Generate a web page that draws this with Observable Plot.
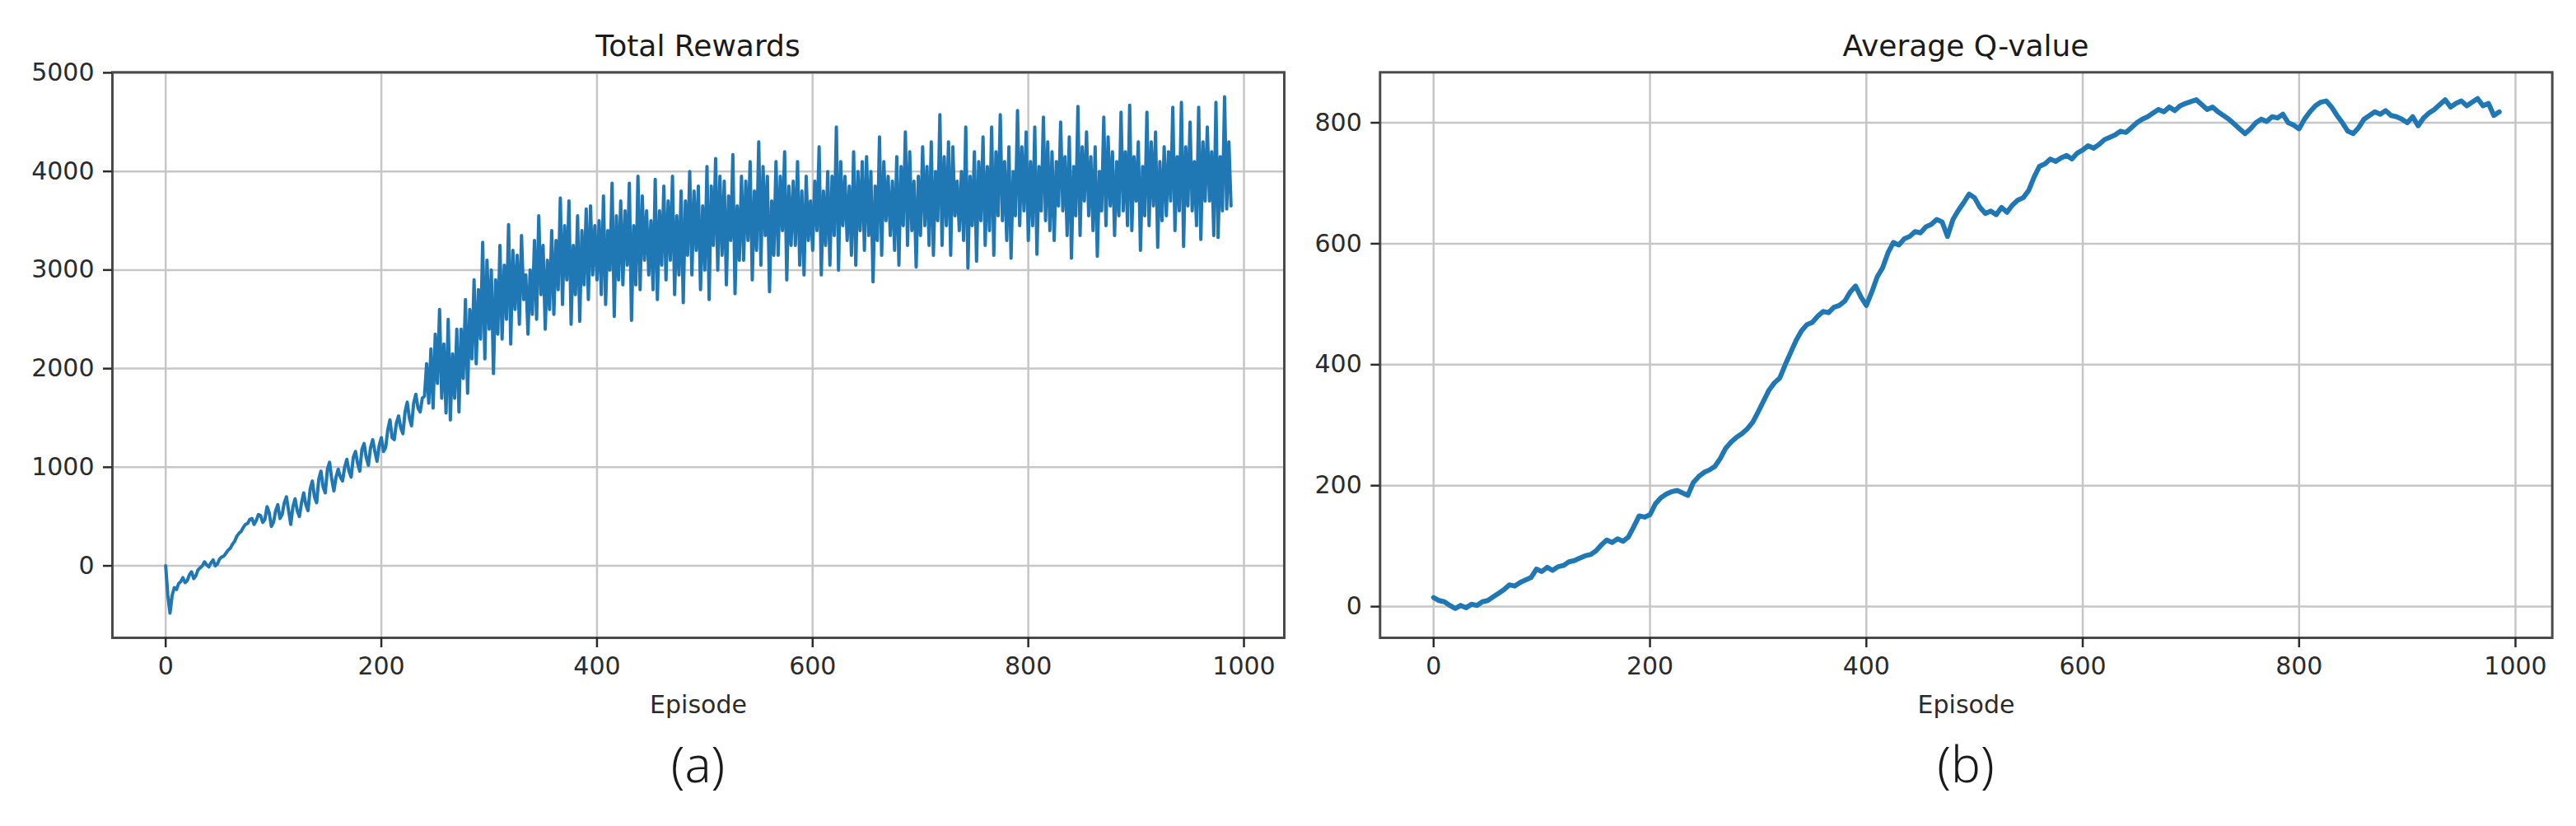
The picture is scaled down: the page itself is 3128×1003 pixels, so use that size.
<!DOCTYPE html>
<html><head><meta charset="utf-8">
<script src="https://cdn.jsdelivr.net/npm/d3@7"></script>
<script src="https://cdn.jsdelivr.net/npm/@observablehq/plot@0.6"></script>
<style>
body{margin:0;background:#fff;}
#wrap{position:relative;width:3128px;height:1003px;background:#fff;overflow:hidden;font-family:"DejaVu Sans",sans-serif;}
.panel{position:absolute;top:0;}
.panel svg{overflow:visible;}
.title{position:absolute;top:37.5px;font-family:"DejaVu Sans",sans-serif;font-size:36px;line-height:36px;color:#1a1a1a;text-align:center;width:800px;white-space:nowrap;}
.cap{position:absolute;top:897px;font-family:"Noto Sans",sans-serif;font-weight:300;font-size:60px;line-height:60px;color:#1a1a1a;text-align:center;width:200px;}
</style></head><body><div id="wrap"></div>
<script>
// Panel (a): Total Rewards, one value every 2 episodes (episodes 0..988)
const rewardStep = 2;
const rewards = [
0,-300,-480,-300,-220,-240,-180,-160,-120,-170,-150,-90,-60,-130,-100,-40,-20,0,40,10,
-10,30,60,0,20,70,90,100,130,160,180,220,250,300,330,350,390,420,430,470,
480,420,460,520,510,440,470,600,540,400,440,560,620,480,520,640,700,560,420,600,
680,560,500,640,740,620,560,780,860,700,640,880,960,800,740,980,1050,880,760,900,
980,900,860,1000,1080,960,900,1100,1160,1040,960,1180,1240,1100,1020,1200,1280,1160,1060,1220,
1300,1160,1200,1380,1480,1300,1280,1450,1520,1400,1340,1560,1660,1500,1420,1650,1740,1600,1560,1700,
1720,2050,1650,2200, 1600,2350,1850,2600, 1700,2250,1550,2500, 1480,2150,1700,2400, 1560,2400,1900,2700,
1750,2600,2100,2900, 2050,2800,2300,3280, 2100,3100,2400,3000, 1950,2900,2350,3250, 2300,3050,2500,3460,
2250,3200,2600,3150, 2450,3350,2700,2950, 2350,3000,2550,3300, 2500,3550,2750,3250, 2400,3100,2600,3400,
2550,3300,2800,3730, 2650,3450,2900,3700, 2450,3250,2750,3550, 2480,3400,2850,3620, 2700,3650,2950,3450,
2900,3500,2750,3750, 2650,3400,3000,3880, 2530,3550,2900,3700, 2850,3600,3050,3880, 2490,3450,2850,3950,
2800,3750,3100,3600, 2950,3500,2800,3920, 2700,3600,3050,3850, 2900,3700,3100,3950, 2750,3550,2950,3800,
2670,3700,3150,4000, 2950,3800,3200,3850, 2800,3650,3000,4050, 2700,3850,3250,4130, 3000,3950,3150,3900,
2850,3750,3300,4170, 2760,3650,3100,3950, 3100,3900,3300,4100, 2900,3800,3200,4300, 3050,4050,3350,3950,
2780,3700,3150,4100, 3150,3950,3400,4200, 2900,3850,3250,3900, 3250,4100,3050,3800, 2950,3950,3300,3700,
3200,3900,3400,4250, 2950,3800,3250,4000, 3050,3950,3350,4450, 3000,4100,3450,3950, 3300,3850,3150,4200,
3050,4000,3400,4100, 3200,4150,3350,4000, 2880,3850,3300,4350, 3150,4100,3500,3950, 3350,3900,3200,4150,
3050,4050,3450,4400, 3250,4200,3400,3900, 3030,3950,3350,4250, 3450,4050,3250,4300, 3150,4000,3500,4575,
3250,4150,3450,4300, 3150,4250,3550,3900, 3400,4000,3300,4450, 3020,3950,3450,4200, 3090,4100,3500,4350,
3250,4050,3400,4450, 3150,4200,3550,4575, 3500,4100,3300,4250, 3120,4000,3550,4617, 3450,4250,3600,4400,
3300,4100,3450,4450, 3160,4050,3600,4550, 3500,4300,3400,4200, 3300,4100,3650,4500, 3600,4150,3350,4350,
3120,4050,3550,4658, 3350,4250,3700,4400, 3550,4150,3400,4250, 3140,4000,3600,4550, 3450,4350,3650,4200,
3350,4100,3550,4600, 3600,4200,3450,4672, 3400,4150,3700,4300, 3200,4050,3550,4600, 3450,4300,3650,4400,
3230,4100,3500,4250, 3550,4200,3700,4650, 3400,4150,3600,4700, 3240,4250,3650,4500, 3600,4100,3450,4650,
3310,4300,3700,4450, 3700,4200,3350,4700, 3330,4150,3600,4756, 3620,4300,3650];

// Panel (b): Average Q-value, one value every 5 episodes (episodes 0..985)
const qStep = 5;
const qValues = [15,10,8,2,-3,2,-2,4,2,8,
10,16,22,28,36,34,40,44,48,62,
58,65,60,66,68,74,76,80,84,86,
92,102,110,106,112,108,115,132,150,148,
152,170,180,186,190,192,188,184,205,215,
222,226,232,245,262,272,280,286,294,305,
322,340,358,370,378,400,420,440,456,466,
470,480,488,486,495,498,505,520,530,512,
498,520,545,560,585,602,598,608,612,620,
618,628,632,640,636,612,640,655,668,682,
676,660,650,654,648,660,652,664,672,676,
688,710,728,732,740,736,742,746,740,750,
755,762,758,764,772,776,780,786,784,792,
800,806,810,816,822,818,826,820,828,832,
835,838,830,822,826,818,812,806,798,790,
782,790,800,806,802,810,808,814,800,796,
790,806,818,828,834,836,826,812,800,786,
782,792,806,812,818,814,820,812,810,806,
800,810,795,808,816,822,830,838,826,832,
836,828,834,840,828,832,812,818];

const xTicks = [0,200,400,600,800,1000];
const rewardTicks = [0,1000,2000,3000,4000,5000];
const qTicks = [0,200,400,600,800];
const titles = ["Total Rewards","Average Q-value"];
const captions = ["(a)","(b)"];
const xLabel = "Episode";

const rewardData = rewards.map((v,i)=>({episode:i*rewardStep, value:v}));
const qData = qValues.map((v,i)=>({episode:i*qStep, value:v}));

const wrap = document.getElementById("wrap");
const plain = d => String(d);

function makePanel({data, yDomain, yTicks, left, width, marginLeft, marginRight, strokeWidth, xDomain}) {
  const chart = Plot.plot({
    width, height: 1003,
    marginLeft, marginRight, marginTop: 87.3, marginBottom: 229,
    style: {fontFamily: '"DejaVu Sans", sans-serif', fontSize: "30px", color: "#2b2b2b", background: "transparent", overflow: "visible"},
    x: {domain: xDomain},
    y: {domain: yDomain},
    marks: [
      Plot.gridX(xTicks, {stroke: "#c6c6c6", strokeOpacity: 1, strokeWidth: 2.5}),
      Plot.gridY(yTicks, {stroke: "#c6c6c6", strokeOpacity: 1, strokeWidth: 2.5}),
      Plot.lineY(data, {x: "episode", y: "value", stroke: "#1f77b4", strokeWidth, strokeLinejoin: "round"}),
      Plot.frame({stroke: "#4a4a4a", strokeWidth: 3}),
      Plot.axisX(xTicks, {tickSize: 12, tickPadding: 11.5, strokeWidth: 2.5, fontSize: 30, tickFormat: plain,
        label: xLabel, labelAnchor: "center", labelArrow: "none", labelOffset: 91}),
      Plot.axisY(yTicks, {tickSize: 11, tickPadding: 11, strokeWidth: 2.5, fontSize: 30, tickFormat: plain, label: null})
    ]
  });
  const div = document.createElement("div");
  div.className = "panel";
  div.style.left = left + "px";
  div.appendChild(chart);
  wrap.appendChild(div);
}

makePanel({data: rewardData, yDomain: [-730, 5005], yTicks: rewardTicks, left: 0, width: 1600,
  marginLeft: 136, marginRight: 41, strokeWidth: 4, xDomain: [-49.4, 1037.4]});
makePanel({data: qData, yDomain: [-51.6, 883.4], yTicks: qTicks, left: 1580, width: 1548,
  marginLeft: 95.3, marginRight: 29.3, strokeWidth: 6, xDomain: [-49.5, 1034]});

const centers = [847.5, 2387];
titles.forEach((t,i)=>{
  const d = document.createElement("div");
  d.className = "title";
  d.style.left = (centers[i]-400) + "px";
  d.textContent = t;
  wrap.appendChild(d);
});
captions.forEach((t,i)=>{
  const d = document.createElement("div");
  d.className = "cap";
  d.style.left = (centers[i]-100) + "px";
  d.textContent = t;
  wrap.appendChild(d);
});
</script>
</body></html>
